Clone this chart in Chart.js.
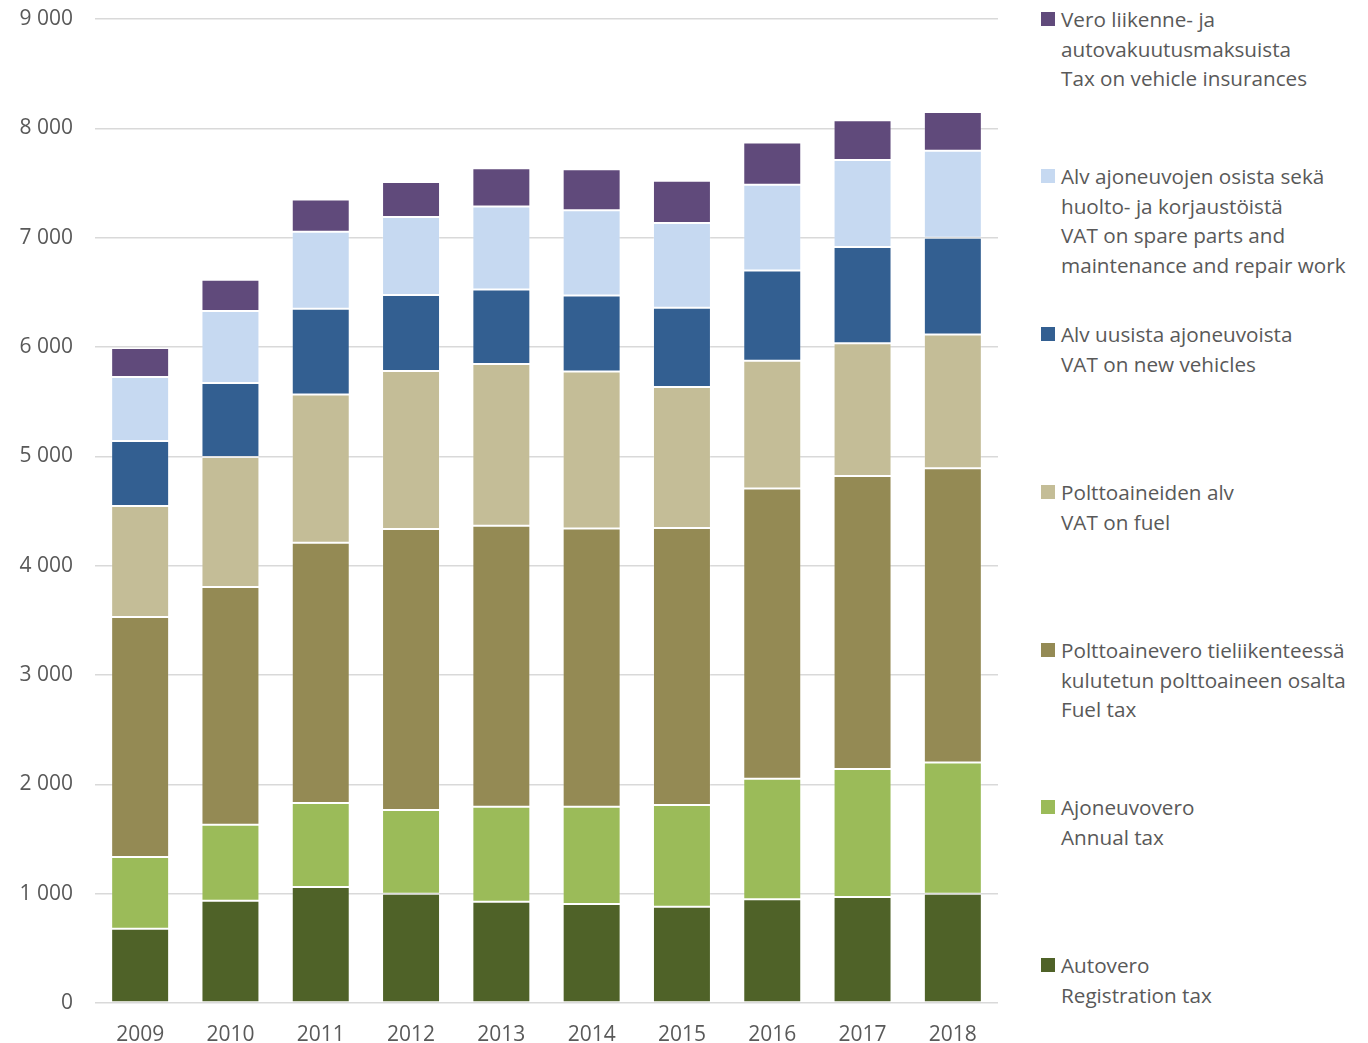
<!DOCTYPE html>
<html>
<head>
<meta charset="utf-8">
<script src="https://cdn.jsdelivr.net/npm/chart.js@4.4.0/dist/chart.umd.min.js"></script>
<style>
  body { margin: 0; background: #fff; font-family: "Open Sans", sans-serif; }
  #wrap { position: relative; width: 1368px; height: 1043px; }
  #chart-box { position: absolute; left: 0; top: 0; width: 1010px; height: 1043px; }
  #legend { position: absolute; left: 1041px; top: 0; }
  .item { position: absolute; left: 0; white-space: nowrap; }
  .box { position: absolute; left: 0; top: 7px; width: 14px; height: 14px; }
  .txt { position: absolute; left: 20px; top: 0; font-size: 20.7px; line-height: 29.6px; color: #595959; }
</style>
</head>
<body>
<div id="wrap">
  <div id="chart-box"><canvas id="chart"></canvas></div>
  <div id="legend"></div>
</div>
<script>
const years = ['2009', '2010', '2011', '2012', '2013', '2014', '2015', '2016', '2017', '2018'];

// millions of euros, bottom to top of each stack
const registrationTax = [680, 935, 1060, 1000, 925, 905, 880, 950, 970, 1000];
const annualTax = [655, 695, 770, 765, 870, 890, 930, 1100, 1170, 1200];
const fuelTax = [2195, 2175, 2380, 2570, 2570, 2545, 2535, 2655, 2680, 2690];
const vatFuel = [1015, 1190, 1355, 1445, 1480, 1435, 1290, 1170, 1215, 1225];
const vatNewVehicles = [595, 675, 785, 695, 680, 695, 725, 825, 880, 885];
const vatSpareParts = [585, 660, 705, 715, 760, 780, 775, 785, 795, 795];
const insuranceTax = [265, 285, 295, 320, 350, 375, 385, 385, 365, 355];

const yTicks = [0, 1000, 2000, 3000, 4000, 5000, 6000, 7000, 8000, 9000];

const seriesNames = [
  ['Autovero', 'Registration tax'],
  ['Ajoneuvovero', 'Annual tax'],
  ['Polttoainevero tieliikenteessä', 'kulutetun polttoaineen osalta', 'Fuel tax'],
  ['Polttoaineiden alv', 'VAT on fuel'],
  ['Alv uusista ajoneuvoista', 'VAT on new vehicles'],
  ['Alv ajoneuvojen osista sekä', 'huolto- ja korjaustöistä', 'VAT on spare parts and', 'maintenance and repair work'],
  ['Vero liikenne- ja', 'autovakuutusmaksuista', 'Tax on vehicle insurances']
];
const seriesData = [registrationTax, annualTax, fuelTax, vatFuel, vatNewVehicles, vatSpareParts, insuranceTax];
const colors = ['#4f6228', '#9bbb59', '#948a54', '#c4bd97', '#335f91', '#c6d9f1', '#604a7b'];

const datasets = seriesData.map((d, i) => ({
  label: seriesNames[i].join(' '),
  data: d,
  backgroundColor: colors[i],
  borderColor: 'rgba(255,255,255,0.2)',
  borderWidth: 1,
  borderSkipped: false,
  categoryPercentage: 1,
  barPercentage: 0.642
}));

const ctx = document.getElementById('chart').getContext('2d');
new Chart(ctx, {
  type: 'bar',
  data: { labels: years, datasets: datasets },
  options: {
    responsive: true,
    maintainAspectRatio: false,
    animation: false,
    layout: { padding: { top: 19, right: 12, left: 0, bottom: 0 } },
    plugins: { legend: { display: false }, tooltip: { enabled: false } },
    scales: {
      x: {
        stacked: true,
        grid: { display: false },
        border: { display: false },
        ticks: { color: '#595959', font: { family: 'Open Sans', size: 21 }, padding: 11 },
        afterFit: (s) => { s.height = 40; s.paddingLeft = 0; s.paddingRight = 0; }
      },
      y: {
        stacked: true,
        min: 0,
        max: 9000,
        afterBuildTicks: (s) => { s.ticks = yTicks.map(v => ({ value: v })); },
        grid: { color: '#d9d9d9', lineWidth: 1.5, drawTicks: false },
        border: { display: false },
        ticks: {
          color: '#595959',
          font: { family: 'Open Sans', size: 21 },
          padding: 22,
          callback: (v) => v >= 1000 ? Math.floor(v / 1000) + ' ' + String(v % 1000).padStart(3, '0') : String(v)
        },
        afterFit: (s) => { s.width = 95; s.paddingTop = 0; s.paddingBottom = 0; }
      }
    }
  }
});

// legend on the right, topmost series first
const legend = document.getElementById('legend');
const legendTops = [951, 793, 636, 478, 320, 162, 5];
seriesNames.forEach((lines, i) => {
  const item = document.createElement('div');
  item.className = 'item';
  item.style.top = legendTops[i] + 'px';
  item.innerHTML = '<div class="box" style="background:' + colors[i] + '"></div>' +
    '<div class="txt">' + lines.join('<br>') + '</div>';
  legend.appendChild(item);
});
</script>
</body>
</html>
